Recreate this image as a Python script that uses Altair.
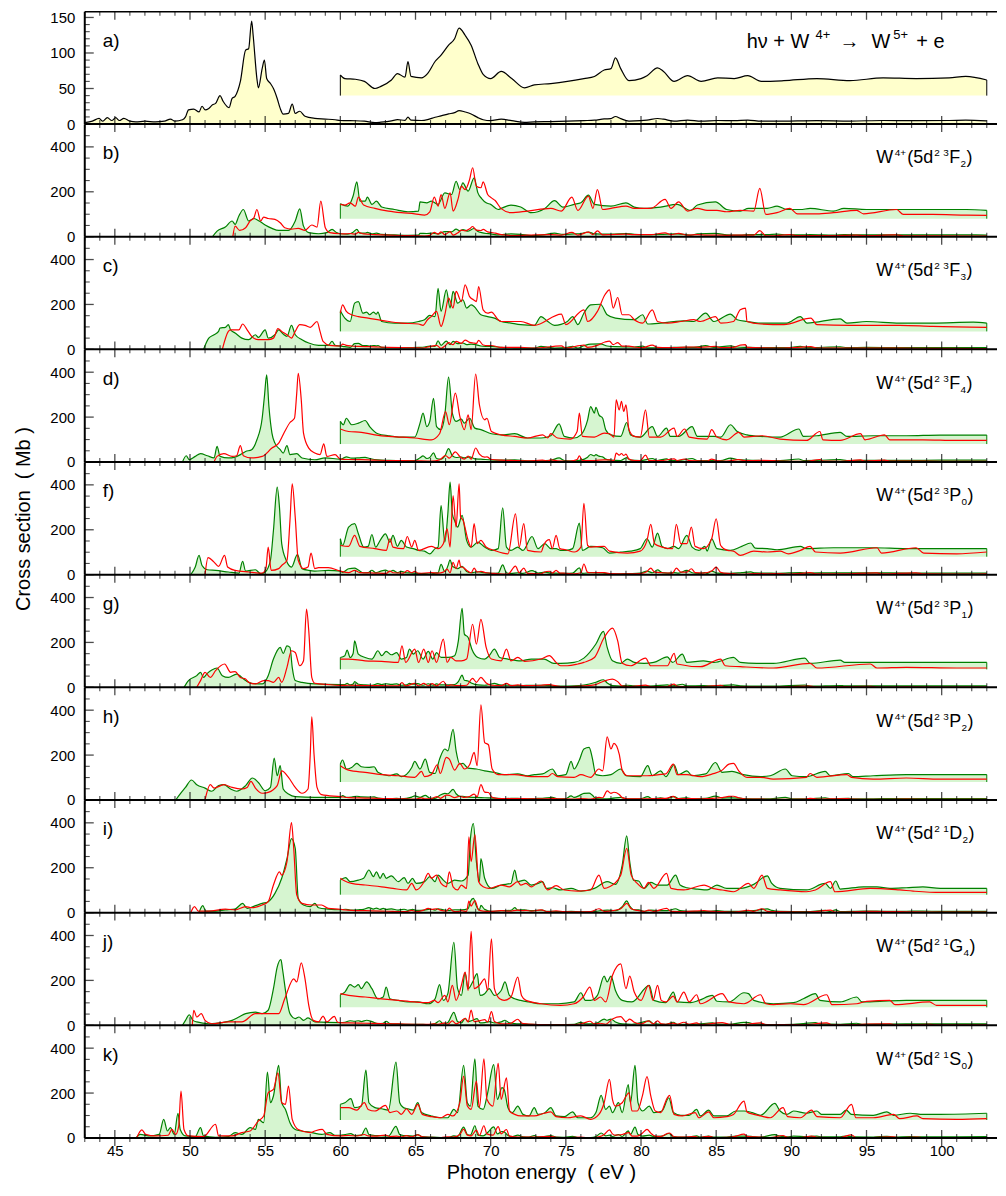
import pandas as pd
import altair as alt

# x range of the plot (eV) and panel size in px
X_MIN, X_MAX = 43, 103.68
W, H = 915, 112.6
GAIN = 5  # the part above 60 eV is repeated x5, lifted to a base line

GREEN = "#008000"
RED = "#ff0000"
FILL_G = "#d6f5d0"
FILL_Y = "#ffffcc"
NB = "\u00a0"

# ---- a) measured W4+ -> W5+ (black); (eV, cross section) ----
A_LO = [(43.0,2),(43.5,4),(43.95,8),(44.2,4),(44.5,9),(44.8,5),(45.06,9),(45.3,5),(45.6,8),(46.0,4),(46.4,3),(47.0,4),(47.7,3),(48.3,4),(48.7,7),(49.0,4),(49.5,6),(49.7,10),(49.9,20),(50.25,21),(50.6,17),(50.8,25),(51.0,20),(51.25,22),(51.5,27),(51.7,29),(52.0,40),(52.2,32),(52.6,23),(52.8,36),(53.0,39),(53.35,60),(53.7,104),(53.9,106),(54.1,145),(54.2,125),(54.45,64),(54.55,51),(54.8,78),(54.95,90),(55.1,64),(55.35,57),(55.55,50),(55.8,36),(56.0,22),(56.2,14),(56.55,15),(56.8,28),(57.0,15),(57.3,18),(57.65,11),(58.3,8),(59.0,7),(59.65,6),(60.0,5)]
# magnified part as drawn (base 40)
A_HI = [(60.0,69),(60.3,64),(61.0,63),(61.6,60),(62.3,50),(62.7,53),(63.4,62),(63.8,71),(64.3,66),(64.5,88),(64.7,67),(65.4,65),(65.8,71),(66.3,88),(66.7,97),(67.2,111),(67.6,120),(67.9,135),(68.3,125),(68.7,111),(69.15,85),(69.5,70),(70.0,64),(70.7,74),(71.4,64),(72.25,51),(72.9,55),(74.0,57),(75.1,60),(76.2,64),(76.9,67),(77.55,76),(78.0,78),(78.3,93),(78.65,78),(79.2,61),(80.0,64),(80.4,68),(81.1,79),(81.5,74),(82.2,60),(83.1,68),(84.0,60),(85.1,65),(86.2,64),(87.1,68),(88.0,60),(89.5,61),(91.7,64),(93.9,61),(96.1,65),(98.3,64),(100.5,65),(101.6,67),(103.0,62)]

# ---- b) 3F2 ----
B_GREEN_LO = [(51.5,0),(51.8,25),(52.35,43),(52.8,70),(53.0,55),(53.25,92),(53.55,121),(53.9,70),(54.25,81),(54.6,70),(55.0,52),(55.45,37),(55.9,28),(56.55,28),(57.0,70),(57.3,124),(57.55,47),(57.9,18),(58.55,13),(59.1,18),(59.45,33),(59.75,18),(60.0,13)]
B_RED_LO = [(52.85,0),(53.0,47),(53.3,28),(53.7,40),(54.0,70),(54.25,84),(54.45,121),(54.7,70),(54.9,87),(55.2,81),(55.65,77),(56.0,62),(56.3,40),(56.75,34),(57.2,37),(57.65,28),(58.1,52),(58.45,43),(58.7,158),(59.0,40),(59.3,18),(60.0,13)]
B_GREEN_HI = [(60.0,147),(60.5,136),(60.85,181),(61.1,244),(61.3,158),(61.65,158),(61.8,176),(62.1,144),(62.4,158),(62.75,132),(63.6,121),(64.5,111),(65.2,114),(65.3,155),(65.75,151),(66.05,158),(66.5,144),(66.95,195),(67.4,188),(67.7,247),(67.95,210),(68.15,240),(68.5,203),(68.9,262),(69.15,195),(69.4,170),(69.7,151),(70.0,144),(70.5,121),(70.7,126),(71.35,141),(72.0,132),(72.7,107),(73.6,126),(74.25,161),(74.8,132),(75.55,144),(76.0,151),(76.5,185),(76.9,144),(78.0,136),(79.0,151),(79.55,132),(80.2,126),(81.3,132),(82.4,144),(83.3,117),(83.75,141),(84.95,155),(85.7,121),(86.6,114),(87.15,126),(88.4,126),(89.05,136),(89.7,121),(90.6,121),(91.25,126),(92.8,114),(93.5,126),(95.0,121),(97.2,121),(99.4,121),(101.65,121),(103.0,117)]
B_RED_HI = [(60.0,144),(60.3,141),(60.65,151),(61.0,136),(61.2,176),(61.55,141),(62.3,126),(63.2,114),(64.05,107),(64.95,102),(65.6,96),(65.95,111),(66.25,176),(66.5,136),(66.7,188),(66.95,126),(67.3,195),(67.5,114),(67.85,173),(68.05,225),(68.3,210),(68.6,255),(68.8,307),(69.05,225),(69.35,218),(69.5,244),(69.8,188),(70.05,173),(70.3,161),(70.7,125),(71.35,107),(72.45,114),(74.0,126),(74.7,114),(75.4,176),(75.8,117),(76.5,181),(76.8,126),(77.1,210),(77.45,121),(78.0,126),(79.0,136),(79.55,126),(80.65,126),(81.6,166),(82.0,126),(82.5,155),(83.1,114),(83.75,126),(84.4,117),(85.05,117),(85.7,111),(86.6,117),(87.5,114),(87.9,215),(88.3,99),(89.05,107),(89.9,126),(90.4,102),(91.7,102),(92.8,107),(94.35,117),(94.8,102),(97.0,121),(97.45,99),(99.4,99),(101.65,96),(103.0,95)]

# ---- c) 3F3 ----
C_GREEN_LO = [(50.9,0),(51.25,50),(51.6,65),(51.9,80),(52.0,95),(52.35,98),(52.55,110),(52.7,87),(53.0,73),(53.45,50),(53.9,43),(54.35,65),(54.55,53),(55.0,87),(55.2,50),(55.65,65),(55.9,87),(56.2,68),(56.45,58),(56.75,107),(57.0,65),(57.45,43),(57.9,28),(58.55,18),(59.2,18),(59.45,36),(59.65,18),(60.0,15)]
C_RED_LO = [(52.15,0),(52.55,80),(52.7,87),(53.0,87),(53.25,87),(53.5,113),(53.8,87),(54.1,58),(54.55,43),(55.2,43),(55.55,50),(55.85,92),(56.1,80),(56.45,65),(56.75,50),(57.0,80),(57.3,110),(57.65,107),(58.0,98),(58.45,124),(58.65,80),(58.85,36),(59.3,18),(60.0,15)]
C_GREEN_HI = [(60.0,172),(60.3,139),(60.65,124),(60.95,206),(61.2,213),(61.5,161),(61.75,166),(61.95,154),(62.2,166),(62.4,157),(62.5,166),(62.75,124),(63.6,117),(64.5,117),(65.2,124),(65.6,132),(65.95,151),(66.3,146),(66.5,272),(66.7,169),(67.05,265),(67.3,184),(67.5,258),(67.8,206),(68.15,221),(68.4,184),(68.7,198),(68.9,191),(69.35,154),(69.8,146),(70.25,139),(70.7,124),(71.35,117),(72.0,110),(72.9,107),(73.35,146),(73.8,124),(74.25,107),(75.1,124),(75.45,146),(75.8,110),(76.2,161),(76.65,198),(77.3,201),(77.75,154),(78.3,139),(79.55,132),(80.1,154),(80.45,113),(81.3,117),(82.2,124),(82.85,127),(83.5,124),(84.3,161),(84.85,124),(85.95,157),(86.4,132),(87.05,124),(87.95,117),(89.7,117),(90.6,146),(91.05,117),(93.25,136),(93.7,117),(95.0,124),(97.2,117),(99.4,117),(102.1,121),(103.0,117)]
C_RED_HI = [(60.0,161),(60.15,198),(60.4,169),(60.75,154),(61.2,146),(61.85,139),(62.95,127),(64.05,117),(65.2,113),(65.5,107),(65.8,132),(66.05,146),(66.4,169),(66.7,102),(66.95,154),(67.2,228),(67.5,184),(67.7,258),(68.05,213),(68.3,287),(68.6,235),(68.85,221),(69.05,213),(69.2,280),(69.5,176),(69.8,161),(70.05,166),(70.5,132),(70.7,124),(72.0,124),(72.9,107),(74.7,157),(75.0,110),(76.2,176),(76.45,124),(77.1,169),(77.6,243),(77.9,265),(78.15,184),(78.45,231),(78.75,154),(79.2,154),(79.55,132),(80.1,117),(80.75,176),(81.1,124),(81.75,117),(82.65,124),(83.5,132),(83.95,124),(84.95,146),(85.3,117),(86.15,124),(86.6,176),(86.95,184),(87.05,124),(87.95,113),(89.5,110),(91.3,139),(91.7,110),(93.9,107),(97.2,107),(99.4,102),(103.0,98)]

# ---- d) 3F4 ----
D_GREEN_LO = [(49.5,0),(49.75,28),(49.95,10),(50.35,25),(50.7,37),(51.15,28),(51.6,18),(51.8,70),(52.0,25),(52.55,18),(53.0,22),(53.35,33),(53.7,47),(54.1,55),(54.45,99),(54.8,195),(54.95,292),(55.1,388),(55.25,247),(55.45,129),(55.65,84),(56.0,55),(56.2,40),(56.45,73),(56.65,33),(57.1,37),(57.45,18),(58.3,10),(59.0,18),(60.0,13)]
D_RED_LO = [(51.6,0),(51.8,25),(52.25,37),(52.8,25),(53.1,28),(53.35,73),(53.55,28),(54.1,18),(54.8,25),(55.45,62),(55.9,84),(56.3,136),(56.65,176),(56.95,195),(57.1,307),(57.2,395),(57.4,277),(57.55,129),(57.9,62),(58.3,40),(58.65,33),(58.9,81),(59.1,25),(59.65,33),(60.0,13)]
D_GREEN_HI = [(60.0,181),(60.2,166),(60.4,195),(60.75,166),(61.2,173),(61.65,185),(61.95,158),(62.5,126),(63.2,117),(64.05,111),(64.95,111),(65.3,173),(65.5,218),(65.75,158),(65.95,181),(66.2,284),(66.4,158),(66.7,144),(66.95,210),(67.2,378),(67.45,218),(67.7,181),(68.05,191),(68.25,173),(68.6,195),(68.95,151),(69.35,144),(70.05,126),(70.7,121),(71.6,126),(72.45,107),(73.35,107),(74.0,117),(74.55,170),(74.9,114),(75.55,107),(76.0,121),(76.45,188),(76.65,247),(76.9,218),(77.0,244),(77.2,210),(77.45,195),(77.65,144),(78.0,121),(78.65,114),(79.05,176),(79.3,121),(79.95,111),(80.75,158),(81.1,114),(81.7,151),(81.95,114),(82.5,114),(83.4,158),(83.75,114),(84.85,114),(85.3,111),(85.95,166),(86.4,136),(87.05,121),(87.95,114),(89.25,111),(90.5,147),(90.8,114),(91.7,117),(93.25,132),(93.7,114),(95.45,117),(97.65,117),(99.9,120),(103.0,120)]
D_RED_HI = [(60.0,147),(60.55,136),(61.4,132),(62.3,121),(63.2,114),(64.05,111),(64.95,107),(66.05,99),(66.6,126),(67.0,225),(67.25,166),(67.65,307),(67.95,203),(68.25,144),(68.5,210),(68.7,144),(69.0,392),(69.25,255),(69.6,188),(69.75,195),(70.05,136),(70.7,121),(71.6,114),(72.45,107),(73.45,121),(73.8,107),(74.0,126),(74.45,107),(75.3,102),(75.75,136),(75.9,218),(76.1,114),(76.9,111),(77.55,129),(77.9,126),(78.2,111),(78.35,277),(78.55,232),(78.7,270),(78.85,225),(79.0,255),(79.2,144),(79.55,114),(79.95,111),(80.3,232),(80.55,111),(81.3,111),(82.2,151),(82.4,114),(82.9,147),(83.2,111),(84.4,102),(84.7,144),(85.05,111),(85.7,99),(86.5,132),(86.85,111),(88.05,117),(89.25,102),(91.0,96),(91.9,136),(92.1,99),(93.25,96),(94.6,126),(94.9,99),(96.2,121),(96.55,99),(98.75,99),(101.0,96),(103.0,96)]

# ---- f) 3P0 ----
F_GREEN_LO = [(50.05,0),(50.35,34),(50.6,86),(50.8,41),(51.15,22),(51.7,19),(52.55,12),(53.25,7),(53.5,59),(53.7,16),(54.35,22),(54.7,4),(55.0,12),(55.35,64),(55.55,197),(55.8,390),(55.95,301),(56.1,138),(56.4,64),(56.75,34),(57.15,90),(57.45,27),(57.9,19),(58.3,16),(59.2,19),(60.0,16)]
F_RED_LO = [(51.0,0),(51.2,76),(51.6,56),(51.9,37),(52.3,86),(52.5,34),(53.0,19),(53.9,12),(54.8,7),(55.05,27),(55.2,123),(55.4,19),(55.9,27),(56.1,41),(56.45,64),(56.65,241),(56.8,404),(57.0,256),(57.2,64),(57.55,27),(57.85,34),(58.05,96),(58.3,27),(58.55,31),(59.2,31),(60.0,16)]
F_GREEN_HI = [(60.0,160),(60.15,130),(60.55,212),(60.95,227),(61.2,182),(61.55,123),(61.85,126),(62.1,179),(62.35,123),(62.65,153),(63.0,182),(63.3,145),(63.5,175),(63.8,126),(64.05,153),(64.4,123),(64.85,116),(65.2,108),(65.6,105),(65.95,93),(66.3,116),(66.5,123),(66.7,308),(66.95,145),(67.15,271),(67.3,412),(67.45,271),(67.6,241),(67.8,212),(68.1,264),(68.4,153),(68.7,123),(69.15,145),(69.6,123),(70.05,108),(70.5,116),(70.8,298),(71.05,123),(71.35,108),(71.8,123),(72.15,108),(72.75,170),(73.15,116),(73.6,138),(74.0,116),(74.35,116),(74.65,108),(75.0,108),(75.45,116),(75.9,230),(76.1,108),(76.65,126),(77.45,120),(77.9,96),(78.65,101),(79.3,105),(79.95,116),(80.4,160),(80.75,123),(81.1,185),(81.4,126),(81.75,116),(82.2,126),(82.5,116),(83.05,175),(83.4,123),(83.85,108),(84.25,126),(84.4,105),(84.7,160),(85.05,116),(85.95,108),(86.7,126),(87.3,141),(87.6,118),(88.4,116),(89.05,111),(90.6,126),(91.0,116),(92.8,120),(95.45,120),(97.65,116),(99.9,116),(103.0,116)]
F_RED_HI = [(60.0,130),(60.55,126),(60.95,175),(61.3,126),(62.3,116),(63.05,108),(63.3,160),(63.5,123),(64.2,116),(64.45,170),(64.75,123),(64.95,153),(65.2,108),(66.05,126),(66.5,116),(66.85,138),(67.1,204),(67.3,123),(67.5,352),(67.7,212),(67.9,404),(68.0,256),(68.15,244),(68.5,153),(68.7,123),(68.9,227),(69.1,138),(69.35,153),(69.7,123),(70.25,108),(71.15,93),(71.65,271),(71.9,123),(72.2,227),(72.45,108),(73.35,101),(73.55,135),(73.9,156),(74.1,116),(74.35,175),(74.6,116),(75.0,111),(75.55,101),(76.0,123),(76.2,318),(76.45,130),(76.65,123),(77.55,126),(77.9,105),(79.1,96),(79.95,105),(80.4,153),(80.65,224),(80.9,138),(81.4,123),(82.1,116),(82.35,224),(82.65,138),(83.05,138),(83.35,212),(83.6,126),(84.15,116),(84.7,160),(85.0,249),(85.3,130),(85.75,108),(86.15,105),(86.6,86),(87.5,105),(88.4,101),(89.25,105),(89.8,93),(90.6,108),(91.25,126),(91.6,101),(93.25,96),(95.7,120),(96.0,96),(98.3,120),(98.8,96),(101.0,93),(103.0,101)]

# ---- g) 3P1 ----
G_GREEN_LO = [(49.6,0),(49.9,30),(50.45,52),(50.7,67),(50.9,44),(51.15,62),(51.45,77),(51.8,86),(52.15,52),(52.55,44),(53.1,59),(53.7,30),(54.1,18),(54.8,15),(55.2,52),(55.55,126),(56.0,178),(56.2,151),(56.45,185),(56.65,178),(56.8,89),(57.0,30),(57.45,22),(58.3,15),(60.0,12)]
G_RED_LO = [(50.45,0),(50.7,30),(51.0,67),(51.35,44),(51.7,74),(52.3,104),(52.7,67),(53.0,70),(53.35,44),(53.7,37),(53.9,22),(54.35,15),(54.9,30),(55.2,30),(55.55,22),(55.9,44),(56.1,22),(56.45,89),(56.75,163),(57.0,155),(57.3,96),(57.55,118),(57.75,348),(57.9,252),(58.1,44),(58.3,18),(59.2,12),(60.0,9)]
G_GREEN_HI = [(60.0,133),(60.3,141),(60.45,166),(60.65,133),(60.85,151),(60.95,207),(61.2,148),(61.65,133),(62.1,126),(62.5,163),(62.75,141),(63.05,160),(63.4,145),(63.75,155),(64.05,126),(64.4,133),(64.6,170),(64.85,148),(65.15,163),(65.5,126),(65.85,160),(66.15,126),(66.4,155),(66.7,133),(67.15,133),(67.6,141),(67.85,207),(68.1,352),(68.25,237),(68.5,222),(68.75,170),(69.15,133),(69.6,126),(69.9,141),(70.25,170),(70.6,133),(71.15,126),(72.0,118),(72.7,126),(73.55,126),(74.2,107),(74.65,107),(75.55,111),(76.2,130),(77.0,193),(77.5,249),(77.75,178),(78.1,118),(78.65,107),(79.1,126),(79.55,111),(80.2,107),(80.85,111),(81.75,136),(82.1,111),(82.75,148),(83.05,111),(84.15,118),(84.85,111),(86.15,133),(86.6,111),(87.7,107),(88.8,107),(90.9,130),(91.25,107),(93.25,121),(93.55,111),(95.25,111),(97.65,111),(99.9,111),(103.0,111)]
G_RED_HI = [(60.0,126),(60.55,126),(61.65,118),(62.75,116),(63.85,111),(64.1,185),(64.35,111),(64.95,170),(65.2,111),(65.55,170),(65.85,111),(66.1,163),(66.4,111),(66.85,215),(67.1,111),(67.35,133),(67.7,118),(68.05,118),(68.4,126),(68.8,281),(69.05,192),(69.35,303),(69.7,178),(70.05,126),(70.7,118),(71.05,170),(71.35,118),(71.8,133),(72.25,116),(73.35,126),(73.9,141),(74.35,111),(74.65,96),(75.1,96),(75.8,104),(76.2,111),(76.9,133),(77.55,222),(78.1,264),(78.45,207),(78.75,107),(79.3,96),(80.3,130),(80.65,96),(81.75,96),(82.2,151),(82.4,104),(83.95,92),(85.3,126),(85.6,96),(86.6,92),(88.8,86),(91.25,107),(91.7,86),(95.25,104),(95.7,86),(97.65,89),(101.0,86),(103.0,86)]

# ---- h) 3P2 ----
H_GREEN_LO = [(49.05,0),(49.35,27),(49.7,56),(50.1,89),(50.45,68),(51.0,53),(51.45,39),(51.9,64),(52.25,68),(52.7,49),(53.1,39),(53.7,64),(54.15,98),(54.55,78),(55.0,41),(55.35,56),(55.6,187),(55.8,108),(56.0,153),(56.2,49),(56.55,27),(57.0,15),(58.3,12),(60.0,12)]
H_RED_LO = [(51.0,0),(51.35,68),(51.6,53),(52.25,68),(52.8,56),(53.45,49),(53.8,56),(54.05,83),(54.35,53),(54.8,30),(55.2,34),(55.8,64),(56.1,130),(56.55,101),(57.0,56),(57.45,30),(57.85,49),(58.0,204),(58.1,370),(58.25,204),(58.45,56),(58.75,24),(60.0,15)]
H_GREEN_HI = [(60.0,160),(60.15,178),(60.4,138),(60.75,145),(61.1,163),(61.4,148),(61.85,145),(62.25,148),(62.5,123),(63.2,108),(63.75,116),(64.05,104),(64.75,145),(64.95,172),(65.3,138),(65.65,182),(65.95,123),(66.3,118),(66.6,182),(66.95,227),(67.15,219),(67.5,315),(67.7,219),(67.95,160),(68.15,163),(68.5,142),(69.05,138),(69.6,130),(70.25,123),(70.9,113),(71.8,116),(72.45,108),(72.9,113),(73.45,116),(74.1,138),(74.45,108),(75.0,113),(75.35,172),(75.55,138),(75.9,178),(76.2,227),(76.55,234),(76.75,190),(77.0,113),(77.45,108),(78.0,113),(78.65,138),(79.0,108),(79.95,104),(80.45,153),(80.75,108),(81.3,130),(81.65,104),(82.2,157),(82.5,113),(83.05,130),(83.4,108),(84.3,116),(84.95,167),(85.4,123),(86.05,127),(86.8,113),(87.95,104),(88.6,108),(89.6,138),(90.05,108),(91.0,104),(92.25,127),(92.6,108),(93.8,118),(94.1,104),(95.45,108),(97.65,113),(99.9,113),(103.0,113)]
H_RED_HI = [(60.0,153),(60.55,133),(61.65,123),(62.75,113),(63.85,108),(64.95,101),(65.4,127),(65.6,104),(66.05,113),(66.45,157),(66.65,118),(67.05,190),(67.25,182),(67.6,133),(67.95,163),(68.25,138),(68.6,157),(68.9,212),(69.1,153),(69.35,424),(69.6,256),(69.85,246),(70.1,138),(70.5,113),(71.6,113),(72.7,104),(73.8,104),(74.1,118),(74.45,104),(75.55,101),(76.0,113),(76.65,101),(77.2,138),(77.45,130),(77.75,281),(78.0,227),(78.2,252),(78.55,204),(78.75,133),(79.1,108),(79.95,108),(80.4,108),(81.2,113),(81.65,116),(82.15,160),(82.4,113),(83.05,113),(83.95,104),(84.75,116),(85.4,133),(85.85,160),(86.15,163),(86.5,130),(87.05,101),(87.95,101),(88.8,93),(91.0,101),(91.25,118),(91.7,101),(93.7,113),(94.0,101),(95.45,93),(97.65,98),(99.9,93),(103.0,93)]

# ---- i) 1D2 ----
I_GREEN_LO = [(50.6,0),(50.85,31),(51.05,7),(51.7,7),(52.35,12),(53.0,16),(53.5,41),(53.8,19),(54.35,31),(54.8,41),(55.2,49),(55.65,86),(56.1,153),(56.45,241),(56.75,330),(57.0,286),(57.2,64),(57.55,34),(58.0,27),(58.3,41),(58.55,22),(59.2,16),(60.0,13)]
I_RED_LO = [(50.05,0),(50.3,27),(50.55,7),(51.25,7),(52.35,16),(53.0,12),(53.7,27),(54.1,22),(54.8,34),(55.2,49),(55.55,123),(55.95,182),(56.1,167),(56.45,227),(56.75,401),(56.9,286),(57.1,79),(57.45,41),(58.1,34),(58.75,34),(59.2,19),(60.0,15)]
I_GREEN_HI = [(60.0,145),(60.35,156),(60.65,138),(61.2,145),(61.55,153),(61.9,190),(62.2,160),(62.4,182),(62.65,153),(62.85,175),(63.05,153),(63.4,164),(63.85,138),(64.25,156),(64.5,130),(64.8,153),(65.05,130),(65.6,138),(65.95,160),(66.3,138),(66.5,167),(66.85,145),(67.15,130),(67.6,145),(68.05,141),(68.5,167),(68.65,327),(68.85,397),(69.05,227),(69.25,138),(69.35,241),(69.6,153),(70.05,108),(70.7,123),(71.35,130),(71.6,190),(71.8,138),(72.25,145),(72.7,123),(73.15,130),(73.45,138),(73.7,108),(74.1,111),(74.65,101),(75.35,108),(76.0,96),(76.9,108),(77.75,138),(78.3,126),(78.75,212),(79.05,342),(79.25,227),(79.5,145),(79.85,141),(80.2,108),(80.65,135),(81.1,123),(81.75,123),(82.3,167),(82.6,123),(83.05,111),(83.75,105),(84.4,101),(85.05,123),(85.7,108),(86.6,108),(87.5,126),(88.4,164),(88.7,130),(89.25,108),(91.0,101),(92.25,130),(92.6,108),(92.95,141),(93.25,105),(94.8,115),(95.7,115),(96.55,108),(97.65,111),(98.75,115),(99.9,108),(103.0,108)]
I_RED_HI = [(60.0,153),(60.3,141),(60.75,130),(61.65,123),(62.75,115),(63.5,108),(64.4,101),(64.75,130),(65.05,101),(65.5,130),(65.85,175),(66.05,153),(66.4,167),(66.7,130),(67.05,115),(67.25,182),(67.5,115),(67.8,101),(68.05,123),(68.4,108),(68.55,338),(68.7,227),(68.95,348),(69.2,138),(69.5,115),(69.9,108),(70.7,123),(71.25,115),(71.8,138),(72.0,123),(72.35,130),(72.7,115),(73.35,141),(73.8,101),(74.35,120),(74.9,101),(75.8,96),(76.65,101),(77.2,167),(77.55,108),(77.9,115),(78.65,167),(79.05,286),(79.35,167),(79.75,130),(80.2,108),(80.5,135),(80.85,108),(81.7,175),(82.0,108),(82.85,101),(84.2,123),(84.75,108),(85.4,101),(86.15,93),(87.15,130),(87.5,108),(88.05,167),(88.4,108),(89.25,101),(91.0,93),(91.6,101),(92.6,138),(92.9,93),(95.25,108),(97.2,101),(98.1,96),(99.9,90),(103.0,90)]

# ---- j) 1G4 ----
J_GREEN_LO = [(49.5,0),(49.7,22),(49.95,47),(50.2,22),(50.45,15),(51.25,7),(52.15,12),(52.8,22),(53.25,37),(53.7,52),(54.35,59),(54.8,52),(55.2,67),(55.55,163),(55.8,259),(56.05,293),(56.15,252),(56.4,133),(56.65,52),(57.0,30),(57.25,37),(57.55,22),(57.85,33),(58.3,15),(60.0,12)]
J_RED_LO = [(50.15,0),(50.25,67),(50.45,37),(50.75,52),(51.0,22),(51.45,7),(52.55,15),(53.45,15),(54.35,52),(55.2,52),(55.9,52),(56.3,118),(56.9,207),(57.1,193),(57.4,278),(57.65,207),(57.9,89),(58.2,22),(58.55,15),(58.85,41),(59.1,15),(59.6,40),(59.8,15),(60.0,12)]
J_GREEN_HI = [(60.0,136),(60.3,148),(60.65,181),(60.95,170),(61.2,181),(61.4,163),(61.75,193),(62.1,163),(62.5,118),(62.85,126),(63.05,170),(63.3,118),(63.85,111),(64.5,104),(65.15,104),(65.85,96),(66.3,118),(66.6,181),(66.85,111),(67.15,141),(67.55,370),(67.8,163),(68.05,133),(68.3,234),(68.5,163),(68.8,193),(69.1,230),(69.3,133),(69.6,141),(69.9,163),(70.25,133),(70.7,155),(70.95,193),(71.25,133),(71.6,118),(72.0,111),(72.55,104),(73.35,96),(74.5,96),(75.55,104),(76.0,145),(76.3,111),(76.65,111),(77.1,133),(77.55,219),(77.75,193),(78.0,219),(78.3,155),(78.75,111),(79.4,104),(80.55,178),(80.85,111),(81.65,101),(82.15,148),(82.4,104),(83.3,101),(83.85,111),(84.75,133),(85.05,107),(85.85,104),(86.85,145),(87.15,141),(87.5,111),(88.8,96),(90.15,101),(90.8,118),(91.6,141),(91.9,111),(93.25,104),(94.35,126),(94.7,104),(95.9,107),(97.65,111),(99.9,111),(103.0,111)]
J_RED_HI = [(60.0,141),(60.55,133),(61.65,126),(62.75,118),(63.85,111),(64.95,104),(65.85,101),(66.25,111),(66.5,101),(66.95,133),(67.15,104),(67.45,178),(67.7,111),(68.05,178),(68.3,237),(68.5,155),(68.7,418),(68.9,163),(69.25,178),(69.6,207),(69.8,155),(70.05,385),(70.25,163),(70.6,118),(70.9,111),(71.35,126),(71.8,215),(72.05,133),(72.35,111),(73.35,96),(74.65,89),(75.55,96),(76.15,126),(76.6,170),(76.9,111),(77.3,126),(77.65,104),(78.1,222),(78.65,274),(79.0,163),(79.25,219),(79.55,148),(80.0,111),(80.5,178),(80.8,111),(81.1,178),(81.35,111),(81.65,104),(82.15,130),(82.4,104),(82.85,148),(83.2,104),(83.7,136),(83.95,96),(85.4,141),(85.85,104),(86.85,96),(87.95,136),(88.3,96),(88.8,92),(89.95,96),(90.8,92),(92.35,136),(92.7,92),(94.35,96),(95.0,107),(96.55,111),(96.9,92),(99.2,104),(99.65,89),(103.0,89)]

# ---- k) 1S0 ----
K_GREEN_LO = [(46.4,0),(46.7,16),(47.25,9),(47.95,16),(48.25,83),(48.5,31),(48.7,46),(48.95,16),(49.2,110),(49.35,38),(49.7,9),(50.35,6),(50.7,46),(50.9,9),(51.7,3),(52.55,6),(53.0,24),(53.45,16),(54.0,46),(54.35,38),(54.55,83),(54.9,68),(55.15,293),(55.35,157),(55.55,187),(55.9,323),(56.1,157),(56.35,127),(56.65,68),(57.0,38),(57.45,31),(58.1,24),(58.75,16),(59.3,24),(59.65,12),(60.0,12)]
K_RED_LO = [(46.45,0),(46.8,36),(47.05,16),(47.7,9),(48.55,12),(48.8,38),(49.05,16),(49.25,53),(49.4,209),(49.6,38),(49.9,9),(50.9,6),(51.7,61),(51.9,9),(52.8,9),(53.45,24),(54.0,31),(54.55,76),(54.9,98),(55.2,201),(55.55,216),(55.85,290),(56.1,157),(56.35,150),(56.55,231),(56.8,83),(57.2,38),(58.0,24),(58.3,31),(58.8,38),(59.1,16),(60.0,9)]
K_GREEN_HI = [(60.0,150),(60.3,157),(60.7,175),(60.95,135),(61.4,142),(61.7,302),(61.9,157),(62.3,135),(62.75,130),(63.2,124),(63.7,338),(63.95,157),(64.2,135),(64.5,130),(64.85,124),(65.15,157),(65.4,113),(66.05,98),(66.7,90),(67.15,90),(67.55,127),(67.8,113),(68.2,323),(68.45,157),(68.65,142),(68.95,352),(69.15,142),(69.5,127),(69.8,201),(70.2,327),(70.45,172),(70.75,224),(70.9,216),(71.15,135),(71.45,113),(71.8,142),(72.15,105),(72.55,98),(72.9,135),(73.15,105),(73.55,110),(74.0,135),(74.35,98),(74.9,95),(75.45,116),(75.8,90),(76.65,90),(77.0,113),(77.35,190),(77.65,127),(77.9,142),(78.1,113),(78.5,157),(78.75,113),(79.15,238),(79.3,157),(79.6,323),(79.8,157),(80.1,120),(80.55,142),(80.85,113),(81.4,120),(81.85,179),(82.15,113),(82.65,101),(83.2,101),(83.7,127),(83.95,98),(84.5,124),(84.85,98),(85.7,98),(86.3,120),(86.85,120),(87.4,113),(87.95,101),(88.9,154),(89.25,120),(89.7,105),(90.15,120),(91.0,110),(91.7,120),(92.0,105),(93.25,105),(93.65,124),(94.0,105),(95.45,101),(96.35,116),(96.8,101),(97.9,110),(98.75,105),(99.9,105),(103.0,110)]
K_RED_HI = [(60.0,135),(60.55,135),(61.1,124),(61.6,157),(61.85,127),(62.3,120),(63.0,145),(63.3,113),(63.75,120),(64.05,105),(64.4,130),(64.75,105),(65.15,150),(65.45,105),(66.05,95),(66.7,90),(67.15,105),(67.5,98),(67.95,157),(68.2,275),(68.45,142),(68.7,127),(69.05,253),(69.25,135),(69.55,352),(69.75,172),(70.15,142),(70.5,332),(70.7,172),(71.05,268),(71.25,120),(71.6,105),(72.0,98),(72.9,98),(73.55,110),(74.0,116),(74.35,95),(75.1,90),(76.0,98),(76.65,83),(77.2,105),(77.55,157),(77.9,261),(78.1,172),(78.3,142),(78.75,157),(79.2,201),(79.4,120),(79.75,120),(80.1,190),(80.4,273),(80.65,187),(80.95,120),(81.3,113),(81.75,179),(81.9,190),(82.2,105),(82.75,98),(83.6,113),(83.85,90),(84.5,116),(84.85,90),(85.7,95),(86.15,105),(86.85,164),(87.05,116),(87.5,105),(87.95,98),(88.6,90),(89.45,135),(89.75,95),(90.6,90),(91.35,124),(91.7,95),(93.25,90),(94.0,150),(94.3,90),(95.45,90),(96.8,105),(97.2,86),(98.35,98),(98.75,86),(101.0,83),(103.0,86)]

TAGS = ["a)", "b)", "c)", "d)", "f)", "g)", "h)", "i)", "j)", "k)"]
# term symbol of each initial level: (multiplicity, L letter, J)
TERMS = [None, ("3", "F", "2"), ("3", "F", "3"), ("3", "F", "4"), ("3", "P", "0"),
         ("3", "P", "1"), ("3", "P", "2"), ("1", "D", "2"), ("1", "G", "4"), ("1", "S", "0")]
LETTER_W = {"F": 11.0, "P": 12.0, "D": 13.0, "G": 14.0, "S": 12.0}
SERIES = [
    (A_LO, A_HI, None, None),
    (B_GREEN_LO, B_GREEN_HI, B_RED_LO, B_RED_HI),
    (C_GREEN_LO, C_GREEN_HI, C_RED_LO, C_RED_HI),
    (D_GREEN_LO, D_GREEN_HI, D_RED_LO, D_RED_HI),
    (F_GREEN_LO, F_GREEN_HI, F_RED_LO, F_RED_HI),
    (G_GREEN_LO, G_GREEN_HI, G_RED_LO, G_RED_HI),
    (H_GREEN_LO, H_GREEN_HI, H_RED_LO, H_RED_HI),
    (I_GREEN_LO, I_GREEN_HI, I_RED_LO, I_RED_HI),
    (J_GREEN_LO, J_GREEN_HI, J_RED_LO, J_RED_HI),
    (K_GREEN_LO, K_GREEN_HI, K_RED_LO, K_RED_HI),
]


def full_curve(lo, hi, base):
    # unmagnified curve: low part as read + magnified part scaled back
    pts = list(lo) + [(x, (v - base) / GAIN) for x, v in hi if x > lo[-1][0]]
    return pd.DataFrame(pts, columns=["x", "y"])


def text_piece(txt, x, y, size):
    return alt.Chart(pd.DataFrame({"t": [txt]})).mark_text(
        align="left", baseline="alphabetic", fontSize=size, color="black"
    ).encode(text="t:N", x=alt.value(x), y=alt.value(y))


def label_layers(i):
    if i == 0:
        y = 36
        return [text_piece("hν + W", 664, y, 20), text_piece("4+", 733, y - 9, 13),
                text_piece("→", 757, y, 20), text_piece("W", 789, y, 20),
                text_piece("5+", 811, y - 9, 13), text_piece("+ e", 834, y, 20)]
    mult, let, j = TERMS[i]
    x0, y = 794, 39
    xl = x0 + 73
    lw = LETTER_W[let]
    return [text_piece("W", x0, y, 18), text_piece("4+", x0 + 18.5, y - 7, 10),
            text_piece("(5d", x0 + 31, y, 18), text_piece("2", x0 + 58, y - 7, 10),
            text_piece(mult, x0 + 67, y - 7, 10), text_piece(let, xl, y, 18),
            text_piece(j, xl + lw + 0.5, y + 4, 10),
            text_piece(")", xl + lw + 6.5, y, 18)]


def panel(i):
    first, last = i == 0, i == len(TAGS) - 1
    g_lo, g_hi, r_lo, r_hi = SERIES[i]
    top = 158 if first else 500
    base = 40 if first else 80
    line_col = "black" if first else GREEN
    fill_col = FILL_Y if first else FILL_G
    if first:
        y_major, y_minor = [0, 50, 100, 150], [v for v in range(10, 160, 10) if v % 50]
    else:
        y_major, y_minor = [0, 200, 400], [50, 100, 150, 250, 300, 350, 450]

    if last:
        x_axis = alt.Axis(values=list(range(45, 101, 5)), ticks=False, domain=False, grid=False,
                          labelFontSize=15, labelPadding=6, title=f"Photon energy{NB}{NB}({NB}eV{NB})",
                          titleFontSize=20, titleFontWeight="normal", titlePadding=4)
    else:
        x_axis = None
    xs = alt.X("x:Q", scale=alt.Scale(domain=[X_MIN, X_MAX], nice=False, zero=False), axis=x_axis)
    ys = alt.Y("y:Q", scale=alt.Scale(domain=[0, top], nice=False),
               axis=alt.Axis(values=y_major, ticks=False, domain=False, grid=False,
                             labelFontSize=15, labelPadding=10,
                             title=f"Cross section{NB}{NB}({NB}Mb{NB})" if i == 4 else None,
                             titleFontSize=20, titleFontWeight="normal", titlePadding=16))

    g_main = full_curve(g_lo, g_hi, base)
    g_ins = pd.DataFrame(g_hi, columns=["x", "y"])
    edges = pd.DataFrame({"x": [g_hi[0][0], g_hi[-1][0]], "y": [base, base],
                          "y2": [g_hi[0][1], g_hi[-1][1]]})
    interp = "monotone"
    lw = 1.2
    layers = [
        alt.Chart(g_main).mark_area(color=fill_col, interpolate=interp).encode(x=xs, y=ys),
        alt.Chart(g_ins).mark_area(color=fill_col, interpolate=interp)
        .encode(x=xs, y=ys, y2=alt.datum(base)),
        alt.Chart(g_main).mark_line(color=line_col, strokeWidth=lw, interpolate=interp)
        .encode(x=xs, y=ys),
        alt.Chart(g_ins).mark_line(color=line_col, strokeWidth=lw, interpolate=interp)
        .encode(x=xs, y=ys),
        alt.Chart(edges).mark_rule(color=line_col, strokeWidth=1).encode(x=xs, y=ys, y2="y2:Q"),
    ]
    if r_lo is not None:
        r_main = full_curve(r_lo, r_hi, base)
        r_ins = pd.DataFrame(r_hi, columns=["x", "y"])
        layers += [
            alt.Chart(r_main).mark_line(color=RED, strokeWidth=lw, interpolate=interp)
            .encode(x=xs, y=ys),
            alt.Chart(r_ins).mark_line(color=RED, strokeWidth=lw, interpolate=interp)
            .encode(x=xs, y=ys),
        ]

    # frame lines and inward/crossing ticks
    one = pd.DataFrame({"k": [0]})
    xt = pd.DataFrame({"x": list(range(43, 104))})
    xt_major = xt[xt.x % 5 == 0]
    xt_minor = xt[xt.x % 5 != 0]
    layers += [
        alt.Chart(one).mark_rule(color="black", strokeWidth=2).encode(y=alt.value(H)),
        alt.Chart(one).mark_rule(color="black", strokeWidth=2).encode(x=alt.value(0)),
        alt.Chart(xt_major).mark_tick(orient="vertical", color="black", thickness=1.3, size=16)
        .encode(x=xs, y=alt.value(H)),
        alt.Chart(xt_minor).mark_tick(orient="vertical", color="black", thickness=1.1, size=8)
        .encode(x=xs, y=alt.value(H)),
        alt.Chart(pd.DataFrame({"y": y_major})).mark_tick(orient="horizontal", color="black",
                                                         thickness=1.3, size=9)
        .encode(y=ys, x=alt.value(4.5)),
        alt.Chart(pd.DataFrame({"y": y_minor})).mark_tick(orient="horizontal", color="black",
                                                         thickness=1.1, size=5)
        .encode(y=ys, x=alt.value(2.5)),
    ]
    if first:
        layers += [
            alt.Chart(one).mark_rule(color="black", strokeWidth=1.5).encode(y=alt.value(0)),
            alt.Chart(xt_major).mark_tick(orient="vertical", color="black", thickness=1.3, size=8)
            .encode(x=xs, y=alt.value(4)),
            alt.Chart(xt_minor).mark_tick(orient="vertical", color="black", thickness=1.1, size=4)
            .encode(x=xs, y=alt.value(2)),
        ]

    layers.append(
        alt.Chart(pd.DataFrame({"t": [TAGS[i]]})).mark_text(align="left", baseline="middle",
                                                            fontSize=19, color="black")
        .encode(text="t:N", x=alt.value(18), y=alt.value(29))
    )
    layers += label_layers(i)
    return alt.layer(*layers).properties(width=W, height=H)


chart = alt.vconcat(*[panel(i) for i in range(len(TAGS))], spacing=0, bounds="flush").configure(
    font="Liberation Sans", padding={"left": 5, "top": 0, "right": 0, "bottom": 2}
).configure_view(stroke=None).configure_axis(labelColor="black", titleColor="black")

chart.save("out.html", embed_options={"renderer": "svg", "actions": False})
